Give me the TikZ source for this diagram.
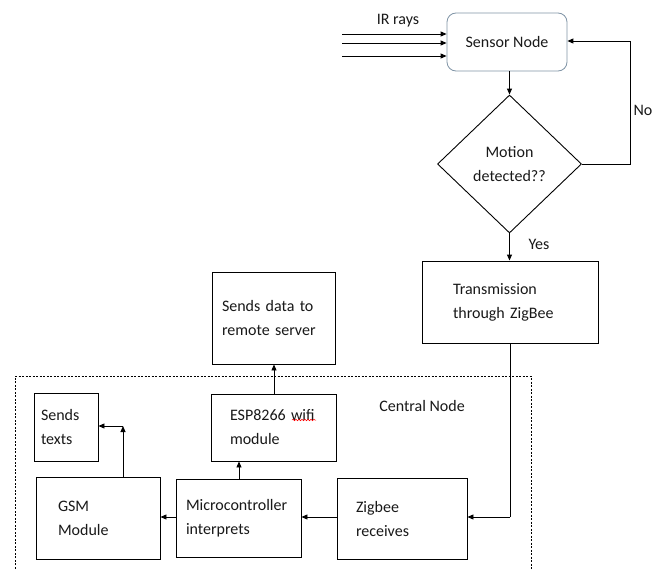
\documentclass[tikz,border=0pt]{standalone}
\usepackage{fontspec}
\setmainfont{Carlito}
\usetikzlibrary{arrows.meta,shapes.geometric,decorations.pathmorphing}
\definecolor{sensorborder}{RGB}{128,148,166}
\definecolor{ink}{RGB}{25,25,25}
\begin{document}
\begin{tikzpicture}[x=1pt,y=-1pt,
  font=\fontsize{16}{24}\selectfont,
  line width=0.9pt,
  text=ink,
  arr/.style={-{Triangle[length=6pt,width=5pt]}},
  boxn/.style={draw,rectangle,align=left,inner ysep=0pt},
]
\useasboundingbox (0,0) rectangle (664,570);
\fill[white] (0,0) rectangle (664,570);

% dashed central area
\draw[line width=0.7pt,dash pattern=on 2pt off 1.5pt] (15,572) -- (15,376) -- (531,376) -- (531,572);
\node (central) at (422,406) {Central Node};

% sensor node
\node[draw=sensorborder,line width=0.8pt,rounded corners=9pt,minimum width=120pt,minimum height=58pt,inner sep=0pt] (sensor) at (507,42) {Sensor Node};
\node (ir) at (398,21) {IR rays};
\coordinate (ir1) at (342,34);
\coordinate (ir2) at (342,43);
\coordinate (ir3) at (342,56);
\draw[arr] (ir1) -- (ir1 -| sensor.west);
\draw[arr] (ir2) -- (ir2 -| sensor.west);
\draw[arr] (ir3) -- (ir3 -| sensor.west);

% decision
\node[draw,diamond,minimum width=144pt,minimum height=138pt,inner sep=0pt,align=center] (dec) at (509.5,164) {Motion\\detected??};
\draw[arr] (sensor.south -| dec.north) -- (dec.north);
\coordinate (noc) at (630,41);
\draw[arr] (dec.east) -| (noc) -- (noc -| sensor.east);
\node (no) at (643,110) {No};

% transmission
\node[boxn,minimum width=176pt,minimum height=82pt,text width=114pt,inner xsep=31pt] (tx) at (510,302) {Transmission\\through ZigBee};
\draw[arr] (dec.south) -- (dec.south |- tx.north);
\node (yes) at (539,244) {Yes};

% central node boxes
\node[boxn,minimum width=130pt,minimum height=81pt,text width=92pt,inner xsep=19pt] (zig) at (402,518.5) {Zigbee\\receives};
\node[boxn,minimum width=125pt,minimum height=78pt,text width=105pt,inner xsep=10pt] (mcu) at (238.5,518) {Microcontroller\\interprets};
\node[boxn,minimum width=124pt,minimum height=82pt,text width=80pt,inner xsep=22pt] (gsm) at (98,518) {GSM\\Module};
\node[boxn,minimum width=125pt,minimum height=67pt,text width=87pt,inner xsep=19pt] (esp) at (273.5,427.5) {ESP8266 wifi\\module};
\node[boxn,minimum width=123pt,minimum height=92pt,text width=103pt,inner xsep=10pt] (srv) at (273.5,318) {Sends data to\\remote server};
\node[boxn,minimum width=64pt,minimum height=68pt,text width=50pt,inner xsep=7pt] (txt) at (66,427) {Sends\\texts};

% red spell-check underline
\draw[red,line width=0.5pt,decorate,decoration={snake,amplitude=0.8pt,segment length=3pt}] (292,420) -- (316,420);

% connectors
\coordinate (zc) at (510,517);
\draw (tx.south -| zc) -- (zc);
\draw[arr] (zc) -- (zc -| zig.east);
\draw[arr] (zig.west |- zc) -- (mcu.east |- zc);
\draw[arr] (mcu.west |- zc) -- (gsm.east |- zc);
\draw[arr] (mcu.north -| 239,0) -- (esp.south -| 239,0);
\draw[arr] (esp.north -| 274,0) -- (srv.south -| 274,0);
\coordinate (gc) at (123,426);
\draw[arr] (gsm.north -| gc) -- (gc);
\draw[arr] (gc) -- (gc -| txt.east);
\end{tikzpicture}
\end{document}
